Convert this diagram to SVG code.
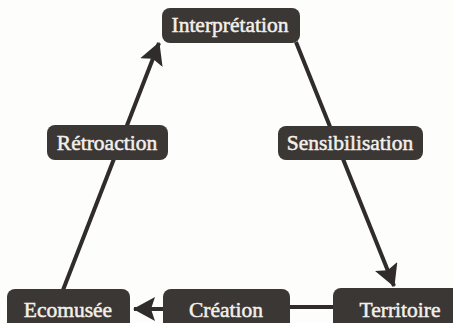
<svg xmlns="http://www.w3.org/2000/svg" width="453" height="323" viewBox="0 0 453 323">
  <style>
    .box { fill: #3b3735; }
    .lbl { fill: #f3f0ea; stroke: #f3f0ea; stroke-width: 0.5; font-family: "Liberation Serif", "Times New Roman", serif; font-size: 21.5px; text-anchor: middle; }
    .edge { stroke: #2f2c2b; stroke-width: 4; fill: none; }
  </style>
  <defs>
    <marker id="arrow" markerUnits="userSpaceOnUse" markerWidth="22" markerHeight="24" viewBox="0 0 22 24" refX="21" refY="12" orient="auto">
      <path d="M0,0 L22,12 L0,24 L4,12 Z" fill="#2f2c2b"/>
    </marker>
  </defs>
  <rect width="453" height="323" fill="#fdfdfc"/>
  <g id="connectors">
    <line class="edge" x1="63" y1="290" x2="159" y2="43" marker-end="url(#arrow)"/>
    <line class="edge" x1="296" y1="42" x2="394" y2="286" marker-end="url(#arrow)"/>
    <line class="edge" x1="335" y1="307" x2="288" y2="307"/>
    <line class="edge" x1="165" y1="309" x2="134" y2="309" marker-end="url(#arrow)"/>
  </g>
  <g id="interpretation">
    <rect class="box" x="162" y="8" width="138" height="35" rx="8"/>
    <text class="lbl" x="230" y="32">Interprétation</text>
  </g>
  <g id="retroaction">
    <rect class="box" x="47" y="125" width="121" height="35" rx="8"/>
    <text class="lbl" x="107" y="150">Rétroaction</text>
  </g>
  <g id="sensibilisation">
    <rect class="box" x="278" y="126" width="145" height="34" rx="8"/>
    <text class="lbl" x="350" y="150">Sensibilisation</text>
  </g>
  <g id="ecomusee">
    <rect class="box" x="7" y="289" width="123" height="44" rx="8"/>
    <text class="lbl" x="68" y="317">Ecomusée</text>
  </g>
  <g id="creation">
    <rect class="box" x="163" y="289" width="127" height="44" rx="8"/>
    <text class="lbl" x="226" y="317">Création</text>
  </g>
  <g id="territoire">
    <rect class="box" x="333" y="288" width="134" height="45" rx="8"/>
    <text class="lbl" x="400" y="317">Territoire</text>
  </g>
</svg>
